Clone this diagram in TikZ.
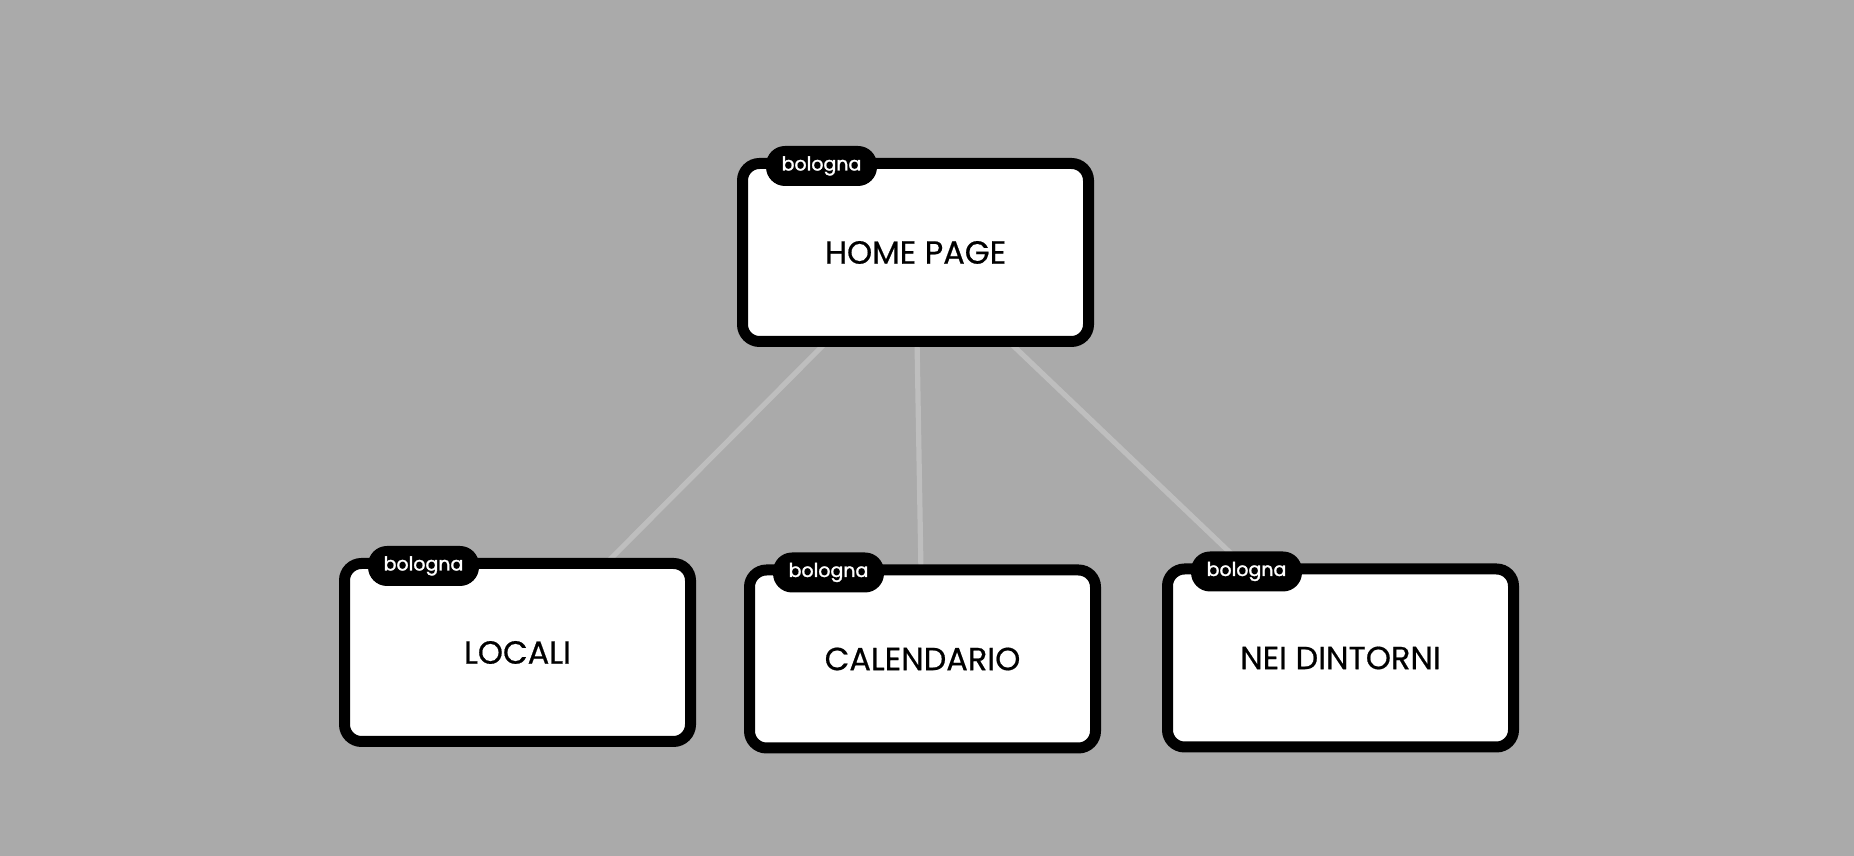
\documentclass[tikz,border=0pt]{standalone}
\usepackage{fontspec}
\setmainfont{Poppins}
\newfontfamily\pagefont[FakeBold=0.6]{Poppins}
\newfontfamily\tagfont[FakeBold=1.6]{Poppins}
\definecolor{bggray}{HTML}{AAAAAA}
\definecolor{linkgray}{HTML}{BEBEBE}
\pgfdeclarelayer{back}
\pgfdeclarelayer{links}
\pgfsetlayers{back,links,main}
\begin{document}
\begin{tikzpicture}[x=0.5pt,y=0.5pt,
    page/.style={draw=black,fill=white,line width=5.5pt,rounded corners=8.5pt,
        minimum width=173pt,minimum height=89pt,inner sep=0pt,font=\pagefont\fontsize{16}{18}\selectfont},
    tag/.style={fill=black,text=white,rounded corners=9.5pt,minimum width=55.5pt,
        minimum height=20pt,inner sep=0pt,font=\tagfont\fontsize{9.5}{11}\selectfont},
    link/.style={draw=linkgray,line width=2.6pt}]
    \begin{pgfonlayer}{back}
        \fill[bggray] (0,0) rectangle (1854,856);
    \end{pgfonlayer}
        \node [page] (home) at (915.5,603.5) {HOME PAGE};
        \node [page] (locali) at (517.5,203.5) {LOCALI};
        \node [page] (calendario) at (922.5,197) {CALENDARIO};
        \node [page] (dintorni) at (1340.5,198) {NEI DINTORNI};
        \node [tag] (home tag) at ([shift={(84.5,-8)}]home.north west) {bologna};
        \node [tag] (locali tag) at ([shift={(84.5,-8)}]locali.north west) {bologna};
        \node [tag] (calendario tag) at ([shift={(84.5,-8)}]calendario.north west) {bologna};
        \node [tag] (dintorni tag) at ([shift={(84.5,-8)}]dintorni.north west) {bologna};
    \begin{pgfonlayer}{links}
        \draw [link] (home.center)--(locali.center);
        \draw [link] (home.center)--(calendario.center);
        \draw [link] (home.center)--(dintorni.center);
    \end{pgfonlayer}
\end{tikzpicture}
\end{document}
